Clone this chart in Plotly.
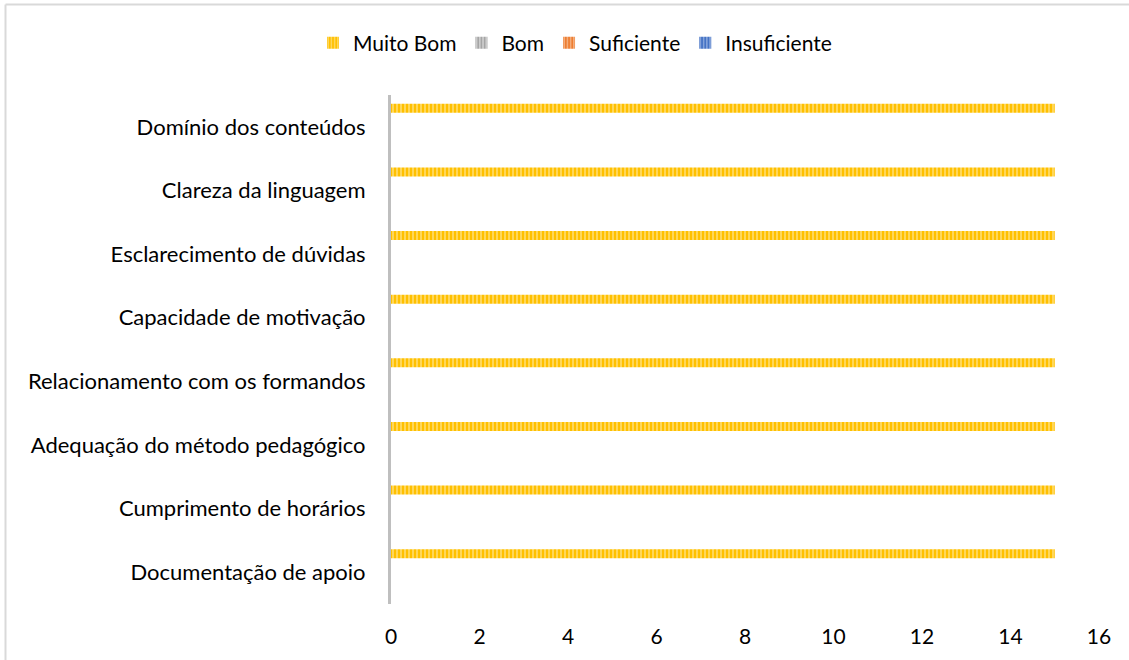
import plotly.graph_objects as go

categories = [
    "Domínio dos conteúdos",
    "Clareza da linguagem",
    "Esclarecimento de dúvidas",
    "Capacidade de motivação",
    "Relacionamento com os formandos",
    "Adequação do método pedagógico",
    "Cumprimento de horários",
    "Documentação de apoio",
]
series_names = ["Muito Bom", "Bom", "Suficiente", "Insuficiente"]
muito_bom = [15, 15, 15, 15, 15, 15, 15, 15]
bom = [0, 0, 0, 0, 0, 0, 0, 0]
suficiente = [0, 0, 0, 0, 0, 0, 0, 0]
insuficiente = [0, 0, 0, 0, 0, 0, 0, 0]
x_ticks = [0, 2, 4, 6, 8, 10, 12, 14, 16]

values = [muito_bom, bom, suficiente, insuficiente]
base_colors = ["#FFC000", "#A5A5A5", "#ED7D31", "#4472C4"]
stripe_colors = ["#FFDD70", "#D6D6D6", "#F6B98E", "#93AEE0"]

W, H = 1129, 660
L, R, T, B = 391, 30, 95, 56
pw, ph = W - L - R, H - T - B

fig = go.Figure()
for name, vals, bc, sc in zip(series_names, values, base_colors, stripe_colors):
    fig.add_trace(go.Bar(
        y=categories, x=vals, name=name, orientation="h",
        marker=dict(color=bc, line=dict(width=0),
                    pattern=dict(shape="|", bgcolor=bc, fgcolor=sc,
                                 size=4, solidity=0.4, fillmode="replace")),
    ))

def px_x(x):
    return (x - L) / pw

def px_y(y):
    return (H - B - y) / ph

fig.update_layout(
    width=W, height=H,
    margin=dict(l=L, r=R, t=T, b=B, autoexpand=False),
    paper_bgcolor="white", plot_bgcolor="white",
    font=dict(family="Lato, Carlito, Calibri, sans-serif", size=22, color="#000000"),
    barmode="group", bargap=0.225, bargroupgap=0.27,
    showlegend=True,
    legend=dict(orientation="h", x=px_x(575), xanchor="center",
                y=px_y(43), yanchor="middle", font=dict(size=21),
                itemwidth=30, tracegroupgap=0, traceorder="normal"),
    xaxis=dict(range=[0, 16], tickvals=x_ticks, showgrid=False, zeroline=False,
               showline=False, ticks="", ticklabelstandoff=18,
               tickfont=dict(size=21)),
    yaxis=dict(autorange="reversed", showgrid=False, zeroline=False,
               showline=True, linecolor="#BFBFBF", linewidth=3, ticks="",
               ticklabelstandoff=18, tickfont=dict(size=22)),
    shapes=[
        dict(type="line", xref="paper", yref="paper",
             x0=px_x(5.5), x1=px_x(5.5), y0=px_y(4.5), y1=px_y(H + 5),
             line=dict(color="#D9D9D9", width=2)),
        dict(type="line", xref="paper", yref="paper",
             x0=px_x(5.5), x1=px_x(W + 5), y0=px_y(4.5), y1=px_y(4.5),
             line=dict(color="#D9D9D9", width=2)),
    ],
)

fig.write_html("out.html", config={"displayModeBar": False},
               post_script="document.body.style.margin='0';document.body.style.overflow='hidden';")
